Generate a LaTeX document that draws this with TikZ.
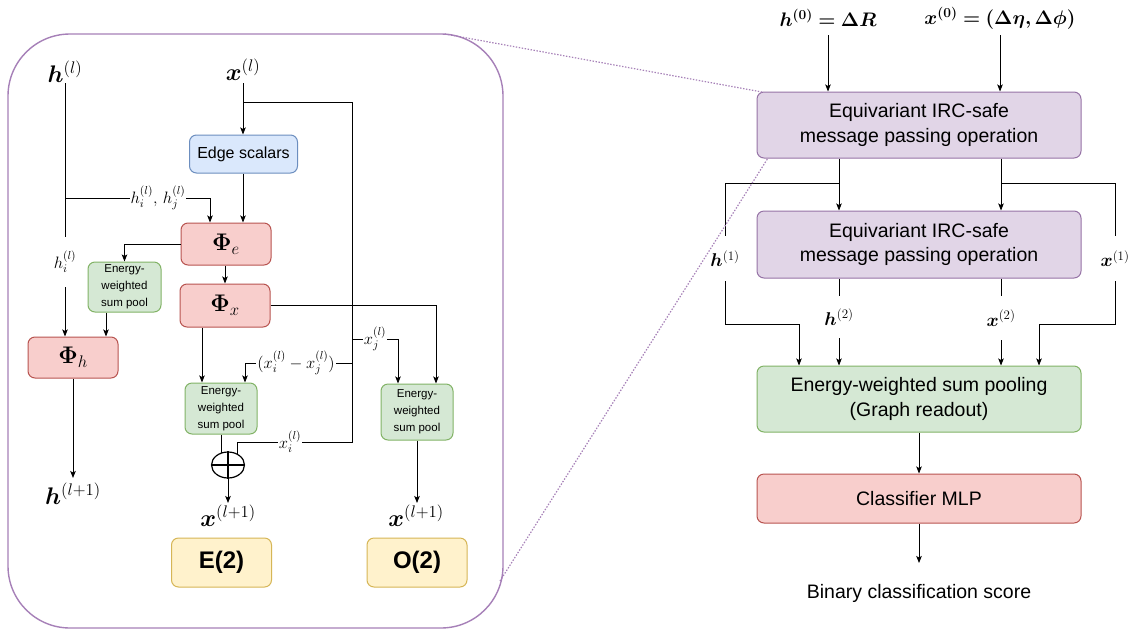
\RequirePackage{fix-cm}
\documentclass[tikz,border=0pt]{standalone}
\usepackage{amsmath}
\usepackage{bm}
\usepackage{fontspec}
\setmainfont{Liberation Sans}
\usetikzlibrary{arrows.meta,shapes.geometric}
\definecolor{purF}{HTML}{E1D5E7}\definecolor{purS}{HTML}{9673A6}
\definecolor{grnF}{HTML}{D5E8D4}\definecolor{grnS}{HTML}{82B366}
\definecolor{redF}{HTML}{F8CECC}\definecolor{redS}{HTML}{B85450}
\definecolor{bluF}{HTML}{DAE8FC}\definecolor{bluS}{HTML}{6C8EBF}
\definecolor{yelF}{HTML}{FFF2CC}\definecolor{yelS}{HTML}{D6B656}
\definecolor{panS}{HTML}{A680B8}
\newcommand\myfA{\fontsize{19.5}{24.5}\selectfont}
\newcommand\myfB{\fontsize{16}{19}\selectfont}
\newcommand\myfC{\fontsize{11.5}{17}\selectfont}
\newcommand\myfD{\fontsize{24}{28}\selectfont}
\newcommand\myfM{\fontsize{24}{28}\selectfont}
\newcommand\myfS{\fontsize{16.5}{18}\selectfont}
\newcommand\myfR{\fontsize{18.5}{20}\selectfont}
\newcommand\myfI{\fontsize{19.6}{23}\selectfont}
\tikzset{
  basebox/.style={rounded corners=7pt, line width=1pt, align=center, inner sep=0pt},
  purbox/.style={basebox, draw=purS, fill=purF, minimum width=324pt, font=\myfA},
  grnbig/.style={basebox, draw=grnS, fill=grnF, minimum width=324pt, font=\myfA},
  redbig/.style={basebox, draw=redS, fill=redF, minimum width=324pt, font=\myfA},
  redbox/.style={basebox, draw=redS, fill=redF, minimum width=90pt, font=\myfM},
  grnsmall/.style={basebox, draw=grnS, fill=grnF, font=\myfC},
  blubox/.style={basebox, draw=bluS, fill=bluF, font=\myfB},
  yelbox/.style={basebox, draw=yelS, fill=yelF, font=\myfD\bfseries, minimum width=100pt, minimum height=49pt},
  conn/.style={line width=0.9pt, draw=black},
  arr/.style={conn, -{Stealth[length=7pt,width=5.5pt,inset=1.5pt]}},
  lab/.style={fill=white, inner sep=1pt, font=\myfS},
  vlab/.style={inner sep=0pt, font=\myfR},
  bigmath/.style={inner sep=0pt, font=\myfM},
  zoomline/.style={draw=panS, line width=1.2pt, dash pattern=on 1.4pt off 1.6pt},
}
\begin{document}
\begin{tikzpicture}[x=1pt,y=-1pt]
\useasboundingbox[fill=white] (0,0) rectangle (1133,630);

% ---------- left panel ----------
\draw[draw=panS, line width=1.4pt, rounded corners=62pt] (8,34) rectangle (503,628);
\coordinate (zA) at (445,34);
\coordinate (zB) at (500,581);

\node[bigmath] (hl) at (65,72) {$\bm{h}^{(l)}$};
\node[bigmath] (xl) at (243,70) {$\bm{x}^{(l)}$};
\node[blubox, minimum width=108pt, minimum height=38pt] (edge) at (243.5,154) {Edge scalars};
\node[redbox, minimum height=42pt] (phie) at (226,244) {$\bm{\Phi}_e$};
\node[grnsmall, minimum width=73pt, minimum height=50pt] (pool1) at (124.5,287) {Energy-\\weighted\\sum pool};
\node[redbox, minimum height=43pt] (phix) at (225,305.5) {$\bm{\Phi}_x$};
\node[redbox, minimum height=41pt] (phih) at (73,357.5) {$\bm{\Phi}_h$};
\node[grnsmall, minimum width=72pt, minimum height=51pt] (pool2) at (221,408.5) {Energy-\\weighted\\sum pool};
\node[grnsmall, minimum width=72pt, minimum height=56pt] (pool3) at (417,412) {Energy-\\weighted\\sum pool};
\node[vlab, font=\myfS, minimum height=50pt] (hi) at (65,262) {$h_i^{(l)}$};
\node[bigmath] (hout) at (73,494) {$\bm{h}^{(l+1)}$};
\node[bigmath] (xoutE) at (228,516) {$\bm{x}^{(l+1)}$};
\node[bigmath] (xoutO) at (416,516) {$\bm{x}^{(l+1)}$};
\node[yelbox] (E2) at (221.5,562.5) {E(2)};
\node[yelbox] (O2) at (417,562.5) {O(2)};

% h path
\draw[conn] (65,83) -- (hi.north);
\draw[arr] (hi.south) -- (hi.south |- phih.north);
\draw[arr] (65,198) -| ([xshift=-16pt]phie.north);
\node[lab] at (158,198) {$h_i^{(l)},\,h_j^{(l)}$};
% x path
\draw[arr] (243,83) -- (edge.north -| 243,0);
\draw[arr] (edge.south -| 243,0) -- (phie.north -| 243,0);
\draw[conn] (243,102) -- (352,102) -- (352,442) -- (237,442) -- (237,465);
\node[lab] at (290,442) {$x_i^{(l)}$};
\draw[arr] (352,339) -| ([xshift=-19pt]pool3.north);
\node[lab] at (375,339) {$x_j^{(l)}$};
\draw[arr] (352,363) -| ([xshift=24pt]pool2.north);
\node[lab] at (296,363) {$(x_i^{(l)}-x_j^{(l)})$};
% Phi connections
\draw[arr] (phie.west) -| (pool1.north);
\draw[arr] (phie.south -| 225,0) -- (phix.north -| 225,0);
\draw[arr] (pool1.south -| 106,0) -- (phih.north -| 106,0);
\draw[arr] (phih.south) -- (73,478);
\draw[arr] (phix.east) -| ([xshift=19pt]pool3.north);
\draw[arr] (phix.south -| 202,0) -- (pool2.north -| 202,0);
\draw[conn] (pool2.south) -- (pool2.south |- 0,465);
\node[ellipse, draw=black, fill=white, line width=1.2pt, minimum width=33pt, minimum height=26pt, inner sep=0pt] (circ) at (228,465) {};
\draw[line width=1.2pt] (circ.north) -- (circ.south) (circ.west) -- (circ.east);
\draw[arr] (circ.south) -- (228,503);
\draw[arr] (pool3.south) -- (417,503);

% ---------- right panel ----------
\node[purbox, minimum height=66pt] (p1) at (919,125) {Equivariant IRC-safe\\message passing operation};
\node[purbox, minimum height=67pt] (p2) at (919,244.5) {Equivariant IRC-safe\\message passing operation};
\node[grnbig, minimum height=66pt] (pool) at (919,399) {Energy-weighted sum pooling\\(Graph readout)};
\node[redbig, minimum height=49pt] (mlp) at (919,498.5) {Classifier MLP};
\node[font=\myfA] (score) at (919,593) {Binary classification score};
\node[font=\myfI, inner sep=0pt] (h0) at (828,18) {$\bm{h^{(0)}=\Delta R}$};
\node[font=\myfI, inner sep=0pt] (x0) at (1000,18) {$\bm{x^{(0)}=(\Delta\eta,\Delta\phi)}$};
\node[vlab, minimum height=45pt] (h1) at (725,258.5) {$\bm{h}^{(1)}$};
\node[vlab, minimum height=45pt] (x1) at (1115,258.5) {$\bm{x}^{(1)}$};
\node[vlab, minimum height=42pt] (h2) at (839,317) {$\bm{h}^{(2)}$};
\node[vlab, minimum height=44pt] (x2) at (1001,318) {$\bm{x}^{(2)}$};

\draw[arr] (h0.south |- 0,35) -- (h0.south |- p1.north);
\draw[arr] (x0.south |- 0,35) -- (x0.south |- p1.north);
\draw[arr] ([xshift=-80pt]p1.south) -- ([xshift=-80pt]p2.north);
\draw[arr] ([xshift=82pt]p1.south) -- ([xshift=82pt]p2.north);
\draw[conn] (839,183) -| (h1.north);
\draw[conn] (1001,183) -| (x1.north);
\draw[arr] (h1.south) |- (799,324) -- ([xshift=-120pt]pool.north);
\draw[arr] (x1.south) |- (1039,324) -- ([xshift=120pt]pool.north);
\draw[conn] ([xshift=-80pt]p2.south) -- (h2.north);
\draw[arr] (h2.south) -- ([xshift=-80pt]pool.north);
\draw[conn] ([xshift=82pt]p2.south) -- (x2.north);
\draw[arr] (x2.south) -- ([xshift=82pt]pool.north);
\draw[arr] (pool.south) -- (mlp.north);
\draw[arr] (mlp.south) -- (919,563);

% zoom lines
\draw[zoomline] (zA) -- (762,92);
\draw[zoomline] (zB) -- (768,158);
\end{tikzpicture}
\end{document}
